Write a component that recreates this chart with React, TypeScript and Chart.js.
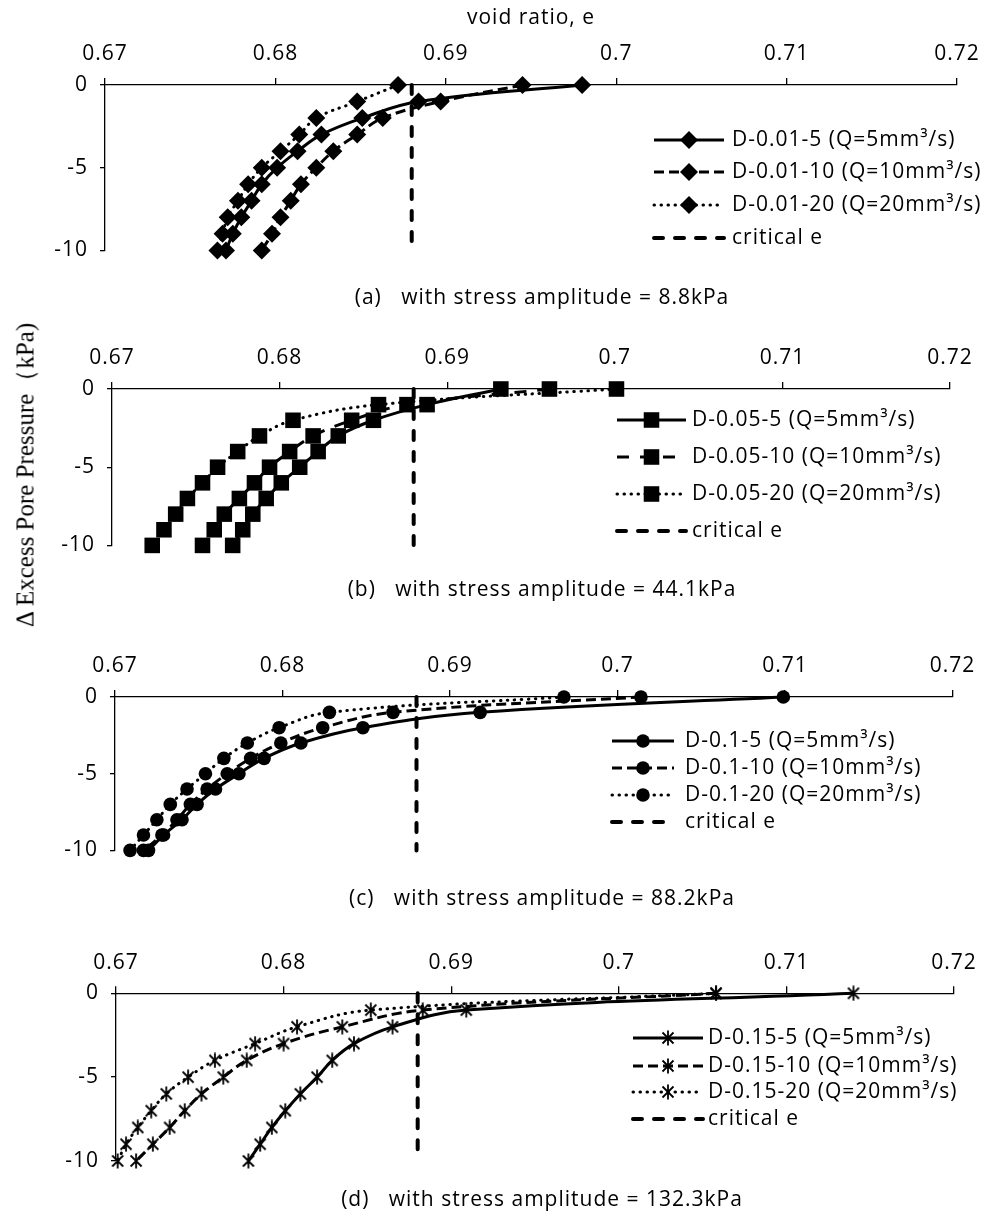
import React, { useEffect, useRef } from "react";
import { Chart, registerables } from "chart.js";
Chart.register(...registerables);

// ---------- data ----------
const yLevels = [0, -1, -2, -3, -4, -5, -6, -7, -8, -9, -10];
const xMin = 0.67;
const xMax = 0.72;
const xStep = 0.01;
const yMin = -10;
const yMax = 0;
const yStep = 5;
const criticalE = 0.688;
const criticalY = [0, -10];

// (a) stress amplitude 8.8kPa
const eA5 = [0.698, 0.6884, 0.6851, 0.6827, 0.6813, 0.6801, 0.6792, 0.6786, 0.678, 0.6775, 0.6771];
const eA10 = [0.6945, 0.6897, 0.6863, 0.6848, 0.6834, 0.6824, 0.6815, 0.6809, 0.6803, 0.6798, 0.6792];
const eA20 = [0.6872, 0.6848, 0.6824, 0.6814, 0.6803, 0.6792, 0.6784, 0.6778, 0.6772, 0.6769, 0.6766];
// (b) 44.1kPa
const eB5 = [0.6932, 0.6888, 0.6856, 0.6835, 0.6823, 0.6812, 0.6801, 0.6792, 0.6784, 0.6778, 0.6772];
const eB10 = [0.6961, 0.6876, 0.6843, 0.682, 0.6806, 0.6794, 0.6785, 0.6776, 0.6767, 0.6761, 0.6754];
const eB20 = [0.7001, 0.6859, 0.6808, 0.6788, 0.6775, 0.6763, 0.6754, 0.6745, 0.6738, 0.6731, 0.6724];
// (c) 88.2kPa
const eC5 = [0.7099, 0.6918, 0.6848, 0.6811, 0.6789, 0.6774, 0.676, 0.6749, 0.674, 0.6729, 0.672];
const eC10 = [0.7014, 0.6866, 0.6824, 0.6799, 0.6781, 0.6767, 0.6755, 0.6745, 0.6737, 0.6728, 0.6717];
const eC20 = [0.6968, 0.6828, 0.6798, 0.6779, 0.6765, 0.6754, 0.6743, 0.6733, 0.6725, 0.6717, 0.6709];
// (d) 132.3kPa
const eD5 = [0.714, 0.6909, 0.6865, 0.6842, 0.6829, 0.682, 0.681, 0.6801, 0.6793, 0.6786, 0.6779];
const eD10 = [0.7058, 0.6883, 0.6835, 0.68, 0.6778, 0.6764, 0.6751, 0.6741, 0.6732, 0.6722, 0.6712];
const eD20 = [0.7058, 0.6852, 0.6808, 0.6783, 0.6759, 0.6743, 0.673, 0.6721, 0.6713, 0.6706, 0.6701];

const labelsA = ["D-0.01-5 (Q=5mm³/s)", "D-0.01-10 (Q=10mm³/s)", "D-0.01-20 (Q=20mm³/s)", "critical e"];
const labelsB = ["D-0.05-5 (Q=5mm³/s)", "D-0.05-10 (Q=10mm³/s)", "D-0.05-20 (Q=20mm³/s)", "critical e"];
const labelsC = ["D-0.1-5 (Q=5mm³/s)", "D-0.1-10 (Q=10mm³/s)", "D-0.1-20 (Q=20mm³/s)", "critical e"];
const labelsD = ["D-0.15-5 (Q=5mm³/s)", "D-0.15-10 (Q=10mm³/s)", "D-0.15-20 (Q=20mm³/s)", "critical e"];

const captionA = "(a)   with stress amplitude = 8.8kPa";
const captionB = "(b)   with stress amplitude = 44.1kPa";
const captionC = "(c)   with stress amplitude = 88.2kPa";
const captionD = "(d)   with stress amplitude = 132.3kPa";

const xTitle = "void ratio, e";
const yTitle = "Δ Excess Pore Pressure（kPa)";

// ---------- layout / style ----------
const FONT = "'Open Sans', 'Noto Sans', sans-serif";
const FS = 21;
const LS = "1px";

type Panel = {
  top: number; height: number; left: number; right: number; plotTop: number; plotBottom: number;
  series: number[][]; labels: string[]; marker: string; radius: number; dash: number[];
  legend: { x0: number; x1: number; xText: number; rows: number[] };
  caption: string; captionY: number;
};

const panels: Panel[] = [
  { top: 0, height: 275, left: 105, right: 957, plotTop: 85, plotBottom: 252,
    series: [eA5, eA10, eA20], labels: labelsA, marker: "rectRot", radius: 9, dash: [10, 5],
    legend: { x0: 654, x1: 724, xText: 732, rows: [140, 172, 205, 238] },
    caption: captionA, captionY: 296 },
  { top: 300, height: 270, left: 112, right: 950, plotTop: 389, plotBottom: 551,
    series: [eB5, eB10, eB20], labels: labelsB, marker: "rect", radius: 11, dash: [12, 11],
    legend: { x0: 617, x1: 686, xText: 692, rows: [420, 457, 494, 531] },
    caption: captionB, captionY: 588 },
  { top: 600, height: 275, left: 115, right: 952.5, plotTop: 697, plotBottom: 856.5,
    series: [eC5, eC10, eC20], labels: labelsC, marker: "circle", radius: 6.8, dash: [10, 5],
    legend: { x0: 612, x1: 674, xText: 685, rows: [741, 768, 795, 822] },
    caption: captionC, captionY: 897 },
  { top: 905, height: 290, left: 116, right: 954, plotTop: 993.3, plotBottom: 1161,
    series: [eD5, eD10, eD20], labels: labelsD, marker: "star", radius: 8, dash: [10, 5],
    legend: { x0: 633, x1: 703, xText: 708, rows: [1038, 1066, 1092, 1119] },
    caption: captionD, captionY: 1198 },
];

function makeStar(): HTMLCanvasElement {
  const c = document.createElement("canvas");
  c.width = 16;
  c.height = 16;
  const g = c.getContext("2d")!;
  g.strokeStyle = "#000";
  g.lineWidth = 1.8;
  g.beginPath();
  g.moveTo(2.5, 2.5); g.lineTo(13.5, 13.5);
  g.moveTo(13.5, 2.5); g.lineTo(2.5, 13.5);
  g.moveTo(8, 0.5); g.lineTo(8, 15.5);
  g.stroke();
  return c;
}

function drawMarker(ctx: CanvasRenderingContext2D, style: any, r: number, x: number, y: number) {
  ctx.save();
  ctx.fillStyle = "#000";
  if (style instanceof HTMLCanvasElement) {
    ctx.drawImage(style, x - style.width / 2, y - style.height / 2);
  } else if (style === "rectRot") {
    ctx.beginPath();
    ctx.moveTo(x - r, y); ctx.lineTo(x, y - r); ctx.lineTo(x + r, y); ctx.lineTo(x, y + r);
    ctx.closePath(); ctx.fill();
  } else if (style === "rect") {
    const s = r * Math.SQRT1_2;
    ctx.fillRect(x - s, y - s, 2 * s, 2 * s);
  } else if (style === "circle") {
    ctx.beginPath(); ctx.arc(x, y, r, 0, Math.PI * 2); ctx.fill();
  }
  ctx.restore();
}

const spacingPlugin = {
  id: "letterSpacing",
  beforeDraw(chart: any) {
    (chart.ctx as any).letterSpacing = LS;
  },
};

const lineLegend = {
  id: "lineLegend",
  afterDatasetsDraw(chart: any, _args: any, opts: any) {
    const { ctx } = chart;
    chart.data.datasets.forEach((ds: any, i: number) => {
      const y = opts.rows[i];
      ctx.save();
      ctx.strokeStyle = "#000";
      ctx.lineWidth = ds.borderWidth;
      ctx.setLineDash(ds.borderDash || []);
      ctx.lineCap = ds.borderCapStyle || "butt";
      ctx.beginPath();
      ctx.moveTo(opts.x0, y);
      ctx.lineTo(opts.x1, y);
      ctx.stroke();
      ctx.setLineDash([]);
      if (ds.pointRadius > 0) drawMarker(ctx, ds.pointStyle, ds.pointRadius, (opts.x0 + opts.x1) / 2, y);
      ctx.fillStyle = "#000";
      ctx.font = `${FS}px ${FONT}`;
      (ctx as any).letterSpacing = LS;
      ctx.textBaseline = "middle";
      ctx.textAlign = "left";
      ctx.fillText(ds.label, opts.xText, y);
      ctx.restore();
    });
  },
};

function PanelChart({ p }: { p: Panel }) {
  const ref = useRef<HTMLCanvasElement>(null);
  useEffect(() => {
    const star = makeStar();
    const pStyle = p.marker === "star" ? star : p.marker;
    const styles = [
      { borderDash: [], cap: "butt" },
      { borderDash: p.dash, cap: "butt" },
      { borderDash: [0.5, 6.5], cap: "round" },
    ];
    const datasets: any[] = p.series.map((s, i) => ({
      label: p.labels[i],
      data: s.map((e, k) => ({ x: e, y: yLevels[k] })),
      borderColor: "#000",
      backgroundColor: "#000",
      borderWidth: 3,
      borderDash: styles[i].borderDash,
      borderCapStyle: styles[i].cap,
      tension: 0.4,
      pointStyle: pStyle,
      pointRadius: p.radius,
      pointBorderWidth: 0,
      pointBackgroundColor: "#000",
      pointBorderColor: "#000",
      clip: false,
    }));
    datasets.push({
      label: p.labels[3],
      data: criticalY.map((y) => ({ x: criticalE, y })),
      borderColor: "#000",
      borderWidth: 4,
      borderDash: [9, 12],
      borderCapStyle: "round",
      pointRadius: 0,
      clip: false,
    });
    const legendRows = p.legend.rows.map((r) => r - p.top);
    const chart = new Chart(ref.current!, {
      type: "line",
      data: { datasets },
      plugins: [spacingPlugin as any, lineLegend as any],
      options: {
        animation: false,
        responsive: false,
        events: [],
        layout: {
          autoPadding: false,
          padding: { left: 0, top: 0, right: 995 - p.right, bottom: p.height - (p.plotBottom - p.top) },
        },
        plugins: {
          legend: { display: false },
          tooltip: { enabled: false },
          lineLegend: { ...p.legend, rows: legendRows },
        } as any,
        scales: {
          x: {
            type: "linear",
            position: "top",
            min: xMin,
            max: xMax,
            afterFit: (s: any) => { s.height = p.plotTop - p.top; },
            ticks: {
              stepSize: xStep,
              padding: 11,
              color: "#000",
              font: { family: FONT, size: FS },
              maxRotation: 0,
              callback: (v: any) => String(Number(Number(v).toFixed(2))),
            },
            grid: { drawOnChartArea: false, drawTicks: true, tickLength: 7, color: "#000", lineWidth: 1.3 },
            border: { display: true, color: "#000", width: 1.3 },
          },
          y: {
            type: "linear",
            min: yMin,
            max: yMax,
            afterFit: (s: any) => { s.width = p.left; },
            ticks: {
              stepSize: yStep,
              padding: 12,
              color: "#000",
              font: { family: FONT, size: FS },
              callback: (v: any) => String(v),
            },
            grid: { drawOnChartArea: false, drawTicks: true, tickLength: 5, color: "#000", lineWidth: 1.3 },
            border: { display: true, color: "#000", width: 1.3 },
          },
        },
      },
    });
    return () => chart.destroy();
  }, [p]);
  return (
    <canvas
      ref={ref}
      width={995}
      height={p.height}
      style={{ position: "absolute", left: 0, top: p.top, width: 995, height: p.height }}
    />
  );
}

const textStyle: React.CSSProperties = {
  position: "absolute", transform: "translate(-50%,-50%)", fontFamily: FONT, fontSize: FS,
  letterSpacing: LS, whiteSpace: "pre", color: "#000", lineHeight: 1,
};

export default function App() {
  return (
    <div style={{ position: "absolute", left: 0, top: 0, width: 995, height: 1211, background: "#fff", overflow: "hidden" }}>
      {panels.map((p, i) => (
        <PanelChart key={i} p={p} />
      ))}
      {panels.map((p, i) => (
        <div key={"c" + i} style={{ ...textStyle, left: 542, top: p.captionY }}>
          {p.caption}
        </div>
      ))}
      <div style={{ ...textStyle, left: 531, top: 16 }}>{xTitle}</div>
      <div
        style={{
          position: "absolute", left: 25, top: 475, transform: "translate(-50%,-50%) rotate(-90deg)",
          fontFamily: "'Liberation Serif', 'Times New Roman', serif", fontSize: 25, whiteSpace: "pre",
          color: "#000", lineHeight: 1,
        }}
      >
        {yTitle}
      </div>
    </div>
  );
}
